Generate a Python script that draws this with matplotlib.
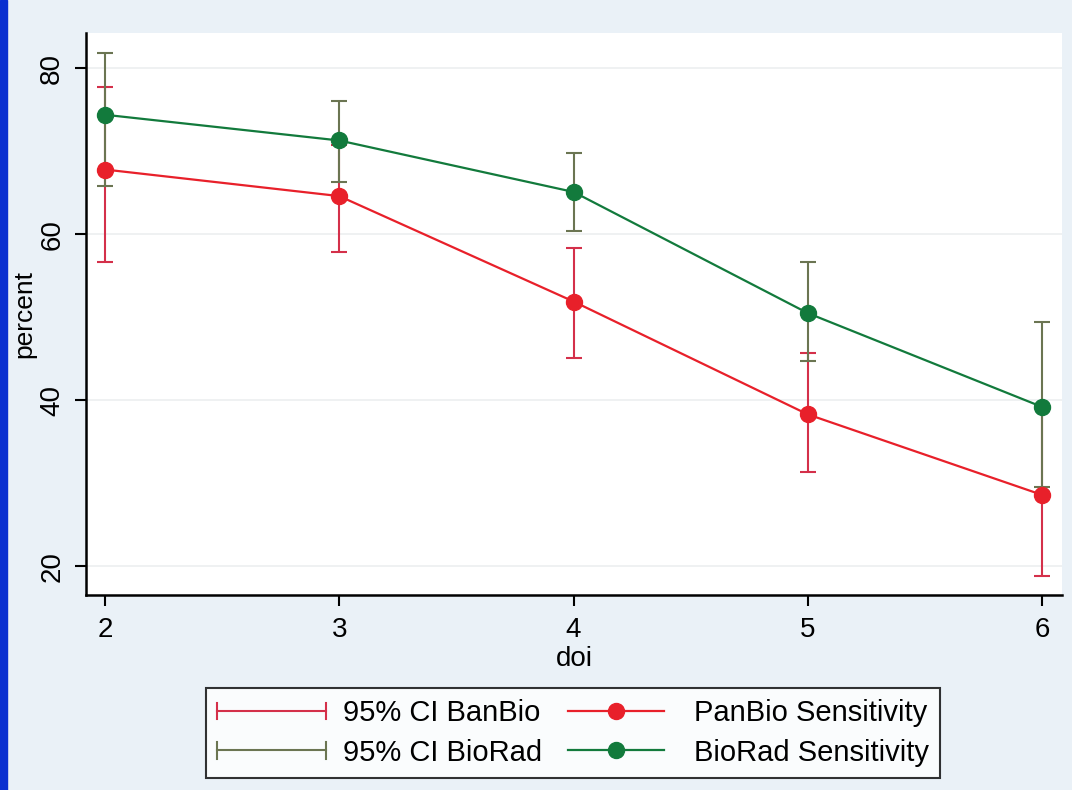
import numpy as np
import matplotlib
matplotlib.use('Agg')
import matplotlib.pyplot as plt
from matplotlib.lines import Line2D
from matplotlib.patches import Rectangle
from matplotlib.legend_handler import HandlerBase

plt.rcParams['font.family'] = ['Liberation Sans', 'DejaVu Sans']

# data
doi = [2, 3, 4, 5, 6]
panbio = [67.8, 64.6, 51.9, 38.3, 28.6]
panbio_lo = [56.6, 57.9, 45.1, 31.4, 18.8]
panbio_hi = [77.7, 70.8, 58.4, 45.7, 39.3]
biorad = [74.4, 71.3, 65.1, 50.5, 39.2]
biorad_lo = [65.8, 66.3, 60.4, 44.7, 29.5]
biorad_hi = [81.9, 76.0, 69.8, 56.6, 49.4]
yticks = [20, 40, 60, 80]
xticks = [2, 3, 4, 5, 6]

RED = '#e8202a'
GREEN = '#127a3c'
RED_CI = '#d4304a'
GREEN_CI = '#6b7552'
BG = '#eaf1f7'


class CapLineHandler(HandlerBase):
    # horizontal line with a vertical cap on each end, like Stata's rcap key
    def __init__(self, color, extra=0.0):
        super().__init__()
        self.color = color
        self.extra = extra

    def create_artists(self, legend, orig_handle, xdescent, ydescent,
                       width, height, fontsize, trans):
        y = height / 2 - ydescent
        x0, x1 = -xdescent, width - xdescent + self.extra
        h = height * 0.4
        arts = [Line2D([x0, x1], [y, y], color=self.color, lw=1.5),
                Line2D([x0, x0], [y - h, y + h], color=self.color, lw=1.5),
                Line2D([x1, x1], [y - h, y + h], color=self.color, lw=1.5)]
        for a in arts:
            a.set_transform(trans)
        return arts


fig = plt.figure(figsize=(10.72, 7.9), dpi=100, facecolor=BG)
fig.patches.append(Rectangle((0, 0), 7 / 1072, 1, transform=fig.transFigure,
                             color='#0a30d0', zorder=10))

ax = fig.add_axes([86 / 1072, 1 - 595 / 790, (1062 - 86) / 1072, (595 - 33) / 790])
ax.set_facecolor('white')

pb = np.array(panbio)
br = np.array(biorad)
ax.errorbar(doi, pb, yerr=[pb - np.array(panbio_lo), np.array(panbio_hi) - pb],
            fmt='none', ecolor=RED_CI, elinewidth=1.5, capsize=5.5, capthick=1.5, zorder=2)
ax.errorbar(doi, br, yerr=[br - np.array(biorad_lo), np.array(biorad_hi) - br],
            fmt='none', ecolor=GREEN_CI, elinewidth=1.5, capsize=5.5, capthick=1.5, zorder=3)
ax.plot(doi, panbio, color=RED, lw=1.6, marker='o', ms=11.5, zorder=4)
ax.plot(doi, biorad, color=GREEN, lw=1.6, marker='o', ms=11.5, zorder=5)

ax.set_xlim(1.919, 6.085)
ax.set_ylim(16.54, 84.25)
ax.set_xticks(xticks)
ax.set_yticks(yticks)
ax.set_yticklabels([str(t) for t in yticks], rotation=90, va='center')
ax.tick_params(axis='both', labelsize=20, length=8, width=1.5, direction='out')
ax.tick_params(axis='x', pad=8)
ax.tick_params(axis='y', pad=7)
ax.grid(axis='y', color='#eceff0', lw=1.2)
ax.set_axisbelow(True)
for s in ['top', 'right']:
    ax.spines[s].set_visible(False)
for s in ['left', 'bottom']:
    ax.spines[s].set_linewidth(1.8)
ax.set_xlabel('doi', fontsize=20, labelpad=2)
ax.set_ylabel('percent', fontsize=19, labelpad=2)

h_ci_r = Line2D([], [], color=RED_CI)
h_ci_g = Line2D([], [], color=GREEN_CI)
h_pb = Line2D([], [], color=RED, lw=1.6, marker='o', ms=11.5)
h_br = Line2D([], [], color=GREEN, lw=1.6, marker='o', ms=11.5)
leg = fig.legend([h_ci_r, h_ci_g, h_pb, h_br],
                 ['95% CI BanBio', '95% CI BioRad', 'PanBio Sensitivity', 'BioRad Sensitivity'],
                 handler_map={h_ci_r: CapLineHandler(RED_CI, 9), h_ci_g: CapLineHandler(GREEN_CI, 9)},
                 ncol=2, loc='center', bbox_to_anchor=(573 / 1072, 1 - 733 / 790),
                 fontsize=21, frameon=True, fancybox=False, edgecolor='black',
                 handlelength=3.3, handletextpad=1.0, columnspacing=0.9,
                 labelspacing=0.38, borderpad=0.38, numpoints=1)
leg.get_frame().set_linewidth(1.5)

fig.savefig('out.png', dpi=100, facecolor=BG)
